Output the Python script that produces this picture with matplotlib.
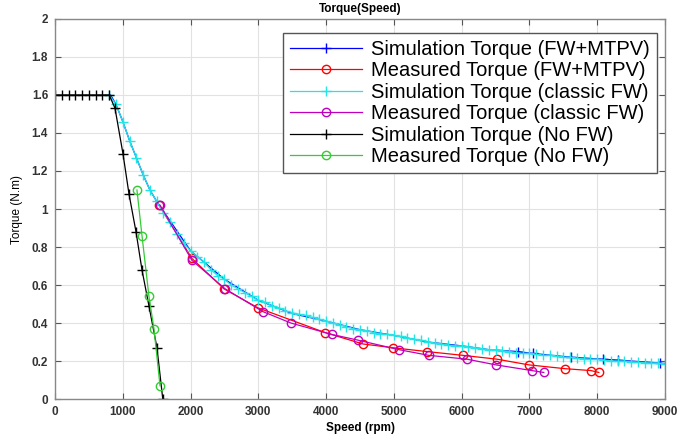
import matplotlib
matplotlib.use("Agg")
import matplotlib.pyplot as plt

plt.rcParams['font.family'] = ['Liberation Sans', 'DejaVu Sans']

# simulation, FW + MTPV (mostly hidden under the classic FW curve)
sim_mtpv_rpm = [820, 900, 1000, 1100, 1200, 1300, 1400, 1500, 2000, 2500,
                3000, 3500, 4000, 4500, 5000, 5500, 6000, 6400, 6830, 7050,
                7620, 8080, 8300, 8920, 9000]
sim_mtpv_trq = [1.60, 1.55, 1.46, 1.36, 1.27, 1.18, 1.10, 1.04, 0.78, 0.63,
                0.52, 0.45, 0.41, 0.365, 0.335, 0.30, 0.28, 0.26, 0.25, 0.24,
                0.22, 0.21, 0.205, 0.19, 0.185]
# only these points show a marker that is not covered by the cyan curve
mtpv_marks = [18, 19, 20, 21, 22, 23]

# measured, FW + MTPV
meas_mtpv_rpm = [1534, 2020, 2493, 2994, 3982, 4543, 4985, 5487, 6018, 6519,
                 6991, 7522, 7906, 8024]
meas_mtpv_trq = [1.02, 0.74, 0.58, 0.48, 0.35, 0.29, 0.27, 0.25, 0.23, 0.21,
                 0.18, 0.16, 0.15, 0.14]

# simulation, classic FW
sim_fw_rpm = [800, 900, 1000, 1100, 1200, 1300, 1400, 1500, 1600, 1700,
              1800, 1900, 2000, 2100, 2200, 2300, 2400, 2500, 2600, 2700,
              2800, 2900, 3000, 3100, 3200, 3300, 3400, 3500, 3600, 3700,
              3800, 3900, 4000, 4100, 4200, 4300, 4400, 4500, 4600, 4700,
              4800, 4900, 5000, 5100, 5200, 5300, 5400, 5500, 5600, 5700,
              5800, 5900, 6000, 6100, 6200, 6300, 6400, 6500, 6600, 6700,
              6800, 6900, 7000, 7100, 7200, 7300, 7400, 7500, 7600, 7700,
              7800, 7900, 8000, 8100, 8200, 8300, 8400, 8500, 8600, 8700,
              8800, 8900, 9000]
sim_fw_trq = [1.60, 1.55, 1.46, 1.36, 1.27, 1.18, 1.10, 1.04, 0.98, 0.93,
              0.87, 0.82, 0.78, 0.75, 0.72, 0.68, 0.65, 0.63, 0.60, 0.58,
              0.56, 0.54, 0.52, 0.51, 0.49, 0.48, 0.465, 0.455, 0.445, 0.44,
              0.43, 0.42, 0.41, 0.40, 0.39, 0.38, 0.37, 0.365, 0.36, 0.35,
              0.345, 0.34, 0.335, 0.33, 0.32, 0.315, 0.31, 0.30, 0.295, 0.29,
              0.285, 0.28, 0.28, 0.275, 0.27, 0.265, 0.26, 0.26, 0.255, 0.25,
              0.245, 0.24, 0.24, 0.235, 0.23, 0.23, 0.225, 0.22, 0.22, 0.215,
              0.21, 0.21, 0.21, 0.205, 0.20, 0.20, 0.20, 0.195, 0.195, 0.19,
              0.19, 0.19, 0.185]

# measured, classic FW
meas_fw_rpm = [1550, 2020, 2510, 3068, 3481, 4086, 4469, 5074, 5516, 6076,
               6504, 7035, 7212]
meas_fw_trq = [1.02, 0.73, 0.58, 0.46, 0.40, 0.34, 0.31, 0.26, 0.23, 0.21,
               0.18, 0.15, 0.14]

# simulation, no FW
sim_nofw_rpm = [0, 100, 200, 300, 400, 500, 600, 700, 800, 885, 1003, 1091,
                1195, 1283, 1386, 1504, 1590]
sim_nofw_trq = [1.6, 1.6, 1.6, 1.6, 1.6, 1.6, 1.6, 1.6, 1.6, 1.53, 1.29, 1.08,
                0.88, 0.68, 0.49, 0.27, 0.0]

# measured, no FW
meas_nofw_rpm = [1209, 1283, 1386, 1460, 1549]
meas_nofw_trq = [1.10, 0.86, 0.54, 0.37, 0.07]

fig = plt.figure(figsize=(7, 4.4), dpi=100)
ax = fig.add_axes([0.0786, 0.093, 0.8714, 0.864])

lw = 0.9
ax.plot(sim_mtpv_rpm, sim_mtpv_trq, color='b', marker='+', markersize=7, lw=lw,
        markevery=mtpv_marks, label='Simulation Torque (FW+MTPV)')
ax.plot(meas_mtpv_rpm, meas_mtpv_trq, color='r', marker='o', markersize=6,
        markerfacecolor='none', lw=lw, label='Measured Torque (FW+MTPV)')
ax.plot(sim_fw_rpm, sim_fw_trq, color='#22e5e5', marker='+', markersize=6.5, lw=lw,
        label='Simulation Torque (classic FW)')
ax.plot(meas_fw_rpm, meas_fw_trq, color='m', marker='o', markersize=6,
        markerfacecolor='none', lw=lw, label='Measured Torque (classic FW)')
ax.plot(sim_nofw_rpm, sim_nofw_trq, color='k', marker='+', markersize=7.5, lw=lw,
        label='Simulation Torque (No FW)')
ax.plot(meas_nofw_rpm, meas_nofw_trq, color='#33cc33', marker='o', markersize=6,
        markerfacecolor='none', lw=lw, label='Measured Torque (No FW)')

ax.set_xlim(0, 9000)
ax.set_ylim(0, 2)
ax.set_xticks(range(0, 9001, 1000))
ax.set_yticks([0, 0.2, 0.4, 0.6, 0.8, 1, 1.2, 1.4, 1.6, 1.8, 2])
ax.set_yticklabels(['0', '0.2', '0.4', '0.6', '0.8', '1', '1.2', '1.4', '1.6', '1.8', '2'])
ax.grid(True, color='#e2e2e2', lw=0.8)
ax.set_axisbelow(True)
ax.tick_params(direction='in', top=True, right=True, length=4, color='#555555',
               labelsize=8.5, pad=5)
for lab in ax.get_xticklabels() + ax.get_yticklabels():
    lab.set_fontweight('bold')
    lab.set_color('#333333')
for sp in ax.spines.values():
    sp.set_color('#888888')
    sp.set_linewidth(1.0)

ax.set_title('Torque(Speed)', fontsize=8.5, fontweight='bold', pad=5)
ax.set_xlabel('Speed (rpm)', fontsize=8.5, fontweight='bold', labelpad=3)
ax.set_ylabel('Torque (N.m)', fontsize=8.5, labelpad=6)

leg = ax.legend(loc='upper right', bbox_to_anchor=(0.987, 0.963), borderaxespad=0,
                fontsize=14.5, handlelength=3.6, handletextpad=0.45,
                labelspacing=0.12, borderpad=0.35, fancybox=False, framealpha=1,
                edgecolor='#555555')
leg.get_frame().set_linewidth(1.0)

fig.savefig('out.png', dpi=100)
